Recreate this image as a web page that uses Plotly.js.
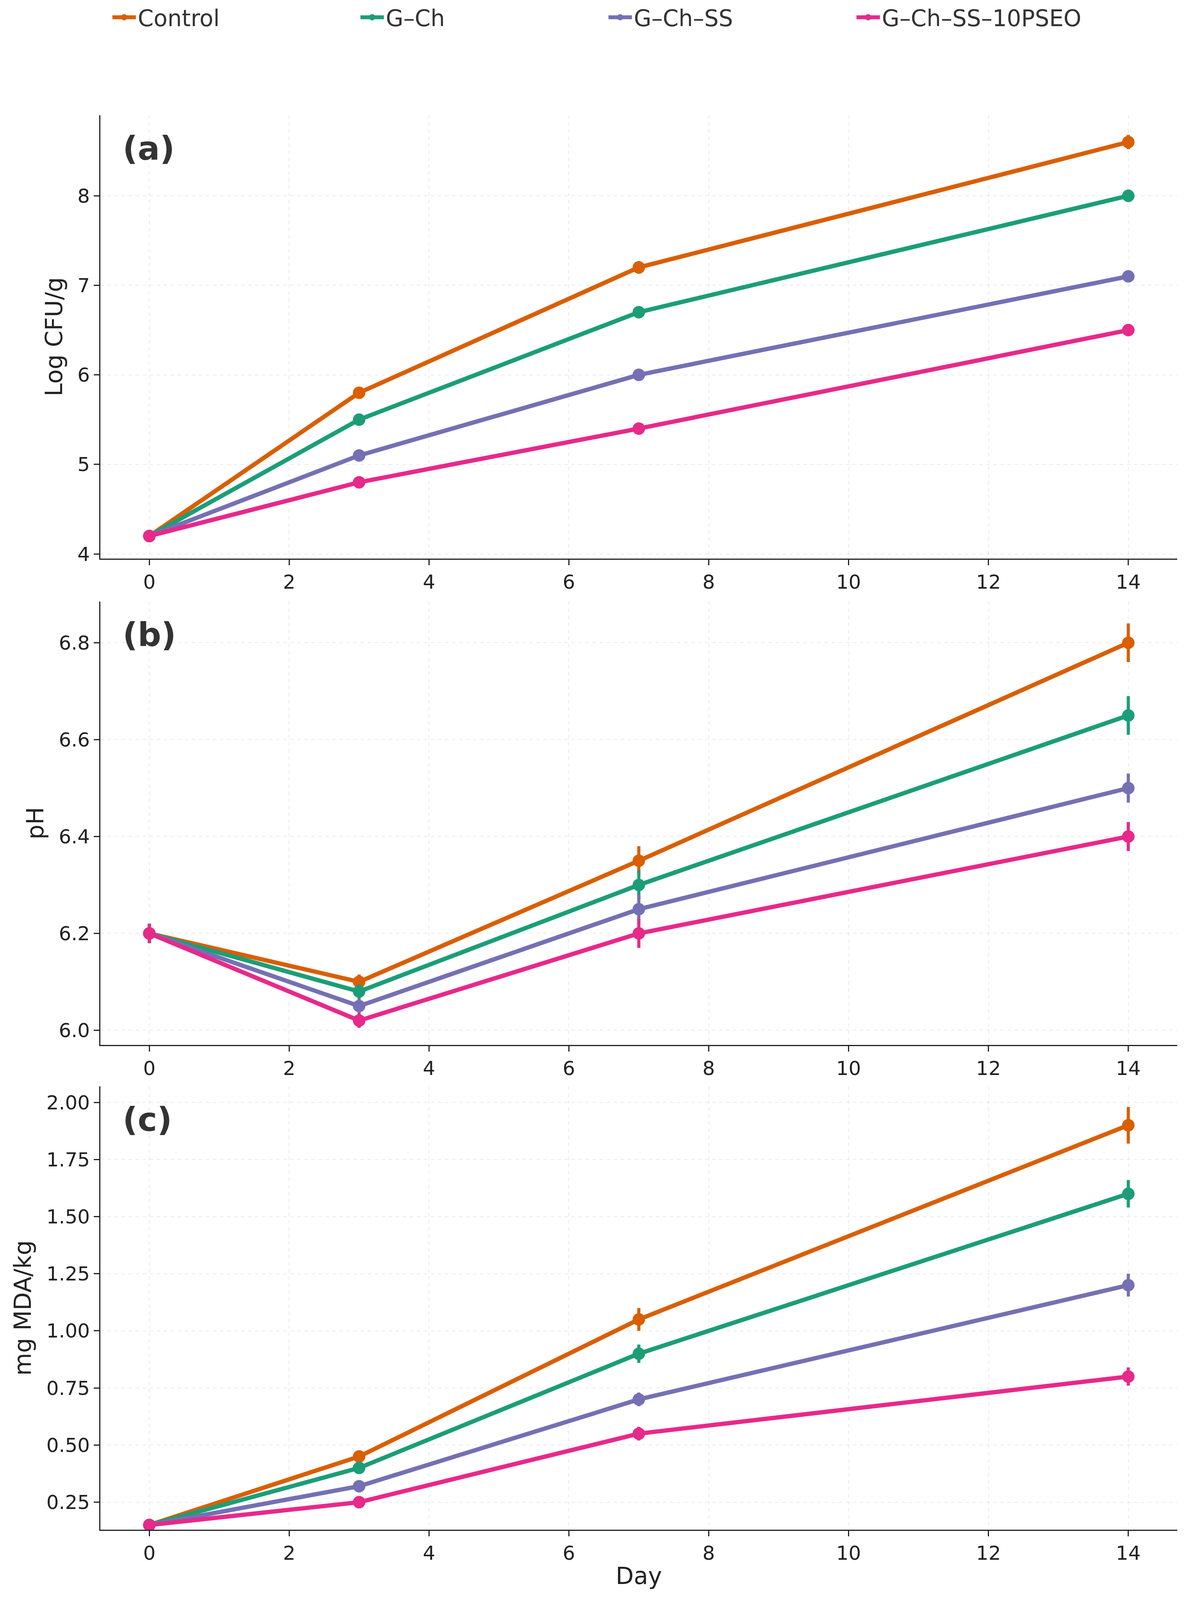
<!DOCTYPE html>
<html>
<head>
<meta charset="utf-8">
<script src="https://cdn.plot.ly/plotly-3.0.1.min.js"></script>
<style>html,body{margin:0;padding:0;background:#fff;overflow:hidden}</style>
</head>
<body>
<div id="plot"></div>
<script>
const days = [0, 3, 7, 14];
const seriesNames = ["Control", "G–Ch", "G–Ch–SS", "G–Ch–SS–10PSEO"];
const seriesColors = ["#d95f02", "#1b9e77", "#7570b3", "#e7298a"];

// (a) Log CFU/g
const cfu = [[4.2, 5.8, 7.2, 8.6], [4.2, 5.5, 6.7, 8.0], [4.2, 5.1, 6.0, 7.1], [4.2, 4.8, 5.4, 6.5]];
const cfuErr = [[0.05, 0.06, 0.07, 0.08], [0.05, 0.06, 0.06, 0.07], [0.05, 0.05, 0.05, 0.06], [0.05, 0.05, 0.05, 0.05]];
// (b) pH
const ph = [[6.2, 6.1, 6.35, 6.8], [6.2, 6.08, 6.3, 6.65], [6.2, 6.05, 6.25, 6.5], [6.2, 6.02, 6.2, 6.4]];
const phErr = [[0.02, 0.015, 0.03, 0.04], [0.02, 0.015, 0.03, 0.04], [0.02, 0.015, 0.03, 0.03], [0.02, 0.015, 0.03, 0.03]];
// (c) mg MDA/kg
const mda = [[0.15, 0.45, 1.05, 1.9], [0.15, 0.4, 0.9, 1.6], [0.15, 0.32, 0.7, 1.2], [0.15, 0.25, 0.55, 0.8]];
const mdaErr = [[0.01, 0.02, 0.05, 0.08], [0.01, 0.02, 0.04, 0.06], [0.01, 0.02, 0.03, 0.05], [0.01, 0.015, 0.03, 0.04]];

const panels = [
  { vals: cfu, err: cfuErr, label: "Log CFU/g", letter: "(a)", range: [3.95, 8.9], dtick: 1, fmt: "", domain: [0.70, 0.928] },
  { vals: ph, err: phErr, label: "pH", letter: "(b)", range: [5.97, 6.885], dtick: 0.2, fmt: ".1f", domain: [0.347, 0.624] },
  { vals: mda, err: mdaErr, label: "mg MDA/kg", letter: "(c)", range: [0.13, 2.07], dtick: 0.25, fmt: ".2f", domain: [0.044, 0.321] },
];
panels[0].domain = [0.651, 0.928];

const W = window.innerWidth || 3062;
const H = window.innerHeight || 4384;
const s = W / 3062;

const font = 'DejaVu Sans, sans-serif';
const traces = [];
const layout = {
  width: W, height: H, autosize: false,
  paper_bgcolor: "#fff", plot_bgcolor: "#fff",
  font: { family: font, color: "#222" },
  margin: { l: 257 * s, r: 48 * s, t: 0, b: 0 },
  showlegend: true,
  legend: {
    orientation: "h", x: 0.47, xanchor: "center", y: 1.0, yanchor: "top",
    font: { size: 58 * s, color: "#333" }, itemwidth: 60 * s,
    entrywidth: 560 * s, entrywidthmode: "pixels",
  },
  annotations: [],
};

panels.forEach((p, pi) => {
  const ax = pi === 0 ? "" : String(pi + 1);
  seriesNames.forEach((name, si) => {
    traces.push({
      x: days, y: p.vals[si], xaxis: "x" + ax, yaxis: "y" + ax,
      type: "scatter", mode: "lines+markers", name: name,
      legendgroup: name, showlegend: pi === 0,
      line: { color: seriesColors[si], width: 11 * s },
      marker: { color: seriesColors[si], size: 32 * s },
      error_y: { type: "data", array: p.err[si], color: seriesColors[si], thickness: 8 * s, width: 0 },
    });
  });
  const axisBase = {
    showline: true, linecolor: "#222", linewidth: 3 * s, mirror: false,
    ticks: "outside", ticklen: 14 * s, tickwidth: 3 * s, tickcolor: "#222",
    showgrid: true, gridcolor: "rgba(0,0,0,0.08)", griddash: "dash", gridwidth: 2 * s,
    zeroline: false, tickfont: { size: 50 * s, color: "#222" },
  };
  layout["xaxis" + ax] = Object.assign({}, axisBase, {
    anchor: "y" + ax, range: [-0.7, 14.7], dtick: 2, tick0: 0,
    title: pi === 2 ? { text: "Day", font: { size: 60 * s }, standoff: 10 * s } : { text: "" },
  });
  layout["yaxis" + ax] = Object.assign({}, axisBase, {
    anchor: "x" + ax, domain: p.domain, range: p.range, dtick: p.dtick, tickformat: p.fmt,
    title: { text: p.label, font: { size: 60 * s }, standoff: 20 * s },
  });
  layout.annotations.push({
    xref: "x" + ax + " domain", yref: "y" + ax + " domain", x: 0.02, y: 0.97,
    xanchor: "left", yanchor: "top", showarrow: false, text: "<b>" + p.letter + "</b>",
    font: { size: 84 * s, color: "#333" },
  });
});

Plotly.newPlot("plot", traces, layout, { displayModeBar: false });
</script>
</body>
</html>
